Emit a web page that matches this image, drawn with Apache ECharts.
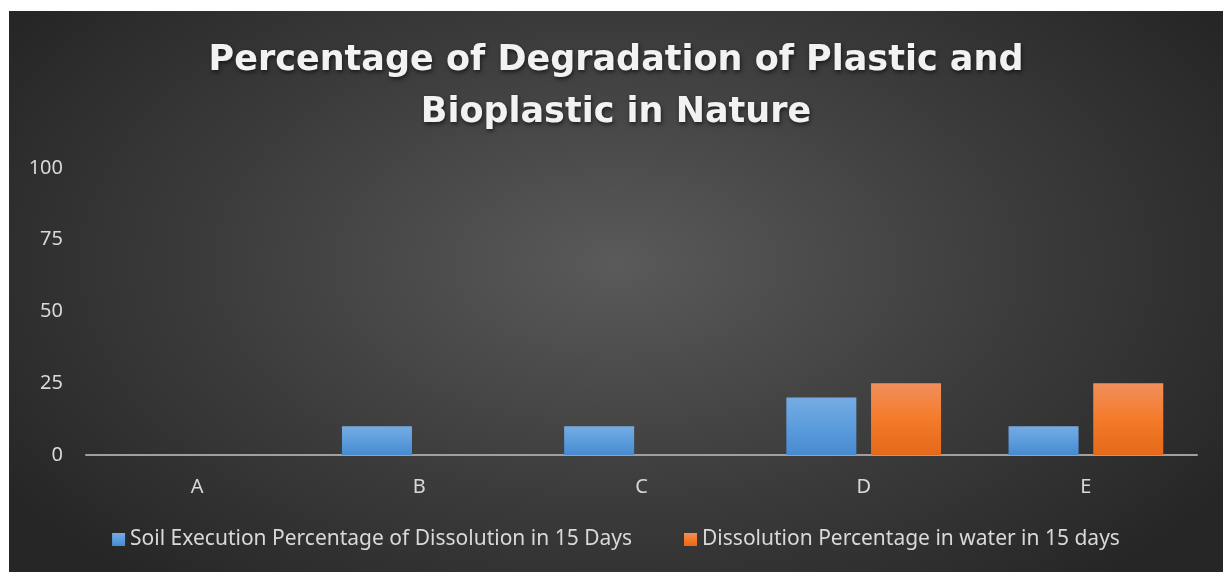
<!DOCTYPE html>
<html>
<head>
<meta charset="utf-8">
<script src="https://cdn.jsdelivr.net/npm/echarts@6/dist/echarts.min.js"></script>
<style>
  html, body { margin: 0; padding: 0; background: #ffffff; }
  #chart {
    position: absolute; left: 9px; top: 11px; width: 1214px; height: 561px;
    background: radial-gradient(ellipse 60% 75% at 50% 45%, #5a5a5a 0%, #3c3c3c 55%, #262626 100%);
  }
</style>
</head>
<body>
<div id="chart"></div>
<script>
  var categories = ['A', 'B', 'C', 'D', 'E'];
  var soilValues = [0, 10, 10, 20, 10];
  var waterValues = [0, 0, 0, 25, 25];
  var seriesNames = ['Soil Execution Percentage of Dissolution in 15 Days', 'Dissolution Percentage in water in 15 days'];
  var yTicks = [0, 25, 50, 75, 100];

  var chart = echarts.init(document.getElementById('chart'));

  function grad(top, mid, bottom) {
    return new echarts.graphic.LinearGradient(0, 0, 0, 1, [
      { offset: 0, color: top },
      { offset: 0.5, color: mid },
      { offset: 1, color: bottom }
    ]);
  }

  var option = {
    backgroundColor: 'transparent',
    title: {
      text: 'Percentage of Degradation of Plastic and\nBioplastic in Nature',
      left: 'center',
      top: 19,
      textStyle: {
        fontFamily: 'DejaVu Sans',
        fontSize: 35,
        fontWeight: 'bold',
        color: '#f2f2f2',
        lineHeight: 52,
        textShadowColor: 'rgba(0,0,0,0.6)',
        textShadowBlur: 4,
        textShadowOffsetX: 1,
        textShadowOffsetY: 2
      }
    },
    legend: {
      bottom: 17,
      left: 'center',
      itemWidth: 13,
      itemHeight: 13,
      itemGap: 52,
      icon: 'rect',
      textStyle: { fontFamily: 'Noto Sans', fontSize: 21, color: '#d9d9d9' },
      data: seriesNames
    },
    grid: { left: 77, right: 26, top: 157, bottom: 117, containLabel: false },
    xAxis: {
      type: 'category',
      data: categories,
      axisLine: { lineStyle: { color: '#a0a0a0', width: 2 } },
      axisTick: { show: false },
      axisLabel: { fontFamily: 'Noto Sans', fontSize: 20, color: '#d9d9d9', margin: 22 }
    },
    yAxis: {
      type: 'value',
      min: yTicks[0],
      max: yTicks[yTicks.length - 1],
      interval: 25,
      axisLine: { show: false },
      axisTick: { show: false },
      splitLine: { show: false },
      axisLabel: { fontFamily: 'Noto Sans', fontSize: 20, color: '#d9d9d9', margin: 23 }
    },
    series: [
      {
        name: seriesNames[0],
        type: 'bar',
        data: soilValues,
        barWidth: 70,
        barGap: '21%',
        itemStyle: {
          color: grad('#76abe2', '#5c9ddd', '#478acf'),
          shadowColor: 'rgba(0,0,0,0.55)',
          shadowBlur: 10,
          shadowOffsetX: 2,
          shadowOffsetY: 2
        }
      },
      {
        name: seriesNames[1],
        type: 'bar',
        data: waterValues,
        barWidth: 70,
        itemStyle: {
          color: grad('#f18f5c', '#f47b2a', '#e4691a'),
          shadowColor: 'rgba(0,0,0,0.55)',
          shadowBlur: 10,
          shadowOffsetX: 2,
          shadowOffsetY: 2
        }
      }
    ]
  };

  chart.setOption(option);
</script>
</body>
</html>
